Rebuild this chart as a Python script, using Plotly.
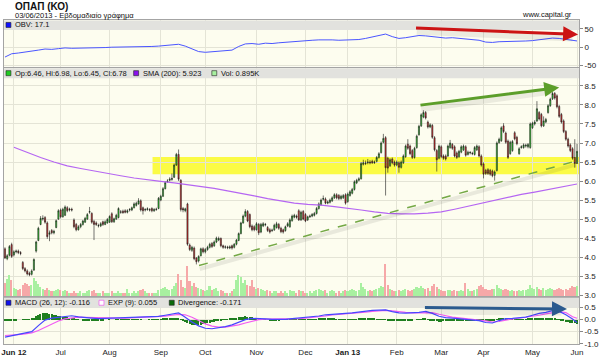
import plotly.graph_objects as go
import pandas as pd

# ---------------- data ----------------
holidays = ["2012-12-25", "2012-12-26", "2013-01-01", "2013-03-18",
            "2013-03-25", "2013-05-01", "2013-05-03", "2013-05-06"]
dates = [d for d in pd.bdate_range("2012-05-28", "2013-06-03")
         if d.strftime("%Y-%m-%d") not in holidays]
N = len(dates)
idx = list(range(N))

opens = [4.22,3.96,4.05,4.33,4.06,4.14,4.16,4.12,3.86,3.70,
         3.64,3.58,3.55,3.66,4.16,4.44,4.86,5.00,5.04,4.90,
         4.60,4.70,4.64,4.78,5.00,5.24,5.06,5.10,5.30,5.24,
         5.26,4.98,4.86,4.72,4.80,4.86,4.92,5.00,5.18,5.15,
         4.94,4.90,4.82,4.82,4.93,4.86,4.90,4.92,5.14,4.93,
         5.00,5.04,5.18,5.21,5.22,5.18,5.24,5.24,5.30,5.36,
         5.40,5.48,5.30,5.24,5.25,5.25,5.28,5.22,5.25,5.28,
         5.50,5.60,5.80,5.98,6.02,6.04,6.10,6.42,6.70,6.02,
         5.28,5.22,5.40,4.32,4.18,4.24,3.98,3.90,4.04,4.22,
         4.14,4.20,4.26,4.36,4.30,4.40,4.45,4.49,4.30,4.26,
         4.27,4.24,4.30,4.26,4.34,4.44,4.62,4.90,5.08,5.20,
         5.12,4.82,4.80,4.72,4.86,4.66,4.82,4.85,4.78,4.72,
         4.70,4.72,4.78,4.86,4.76,4.72,4.70,4.82,4.80,4.96,
         5.05,5.08,5.22,4.98,5.20,5.12,4.98,5.06,5.08,5.10,
         5.15,5.28,5.38,5.52,5.53,5.42,5.44,5.48,5.56,5.64,
         5.62,5.54,5.56,5.64,5.46,5.62,5.68,5.78,5.95,6.02,
         6.06,6.44,6.46,6.48,6.50,6.52,6.48,6.52,6.62,6.75,
         7.02,7.14,6.60,6.40,6.58,6.50,6.42,6.48,6.36,6.48,
         6.64,6.97,6.92,6.80,6.62,6.88,7.22,7.45,7.68,7.80,
         7.55,7.42,7.46,7.14,6.80,6.60,6.90,6.66,6.66,6.66,
         6.88,6.96,6.90,6.74,6.64,6.76,6.82,6.90,6.70,6.74,
         6.73,6.70,6.82,6.90,6.66,6.45,6.28,6.30,6.28,6.26,
         6.15,6.28,7.01,7.06,7.45,7.26,7.05,6.72,6.80,7.27,
         7.15,6.72,6.88,6.88,6.92,6.90,6.88,7.40,7.50,7.58,
         7.80,7.75,7.45,7.55,7.80,7.98,8.16,8.30,8.24,7.96,
         7.75,7.58,7.30,7.10,6.95,6.85,6.62,6.46]

closes = [3.98,4.04,4.28,4.02,4.14,4.16,4.12,4.10,3.70,3.64,
          3.56,3.54,3.64,3.94,4.40,4.76,5.02,5.02,4.92,4.54,
          4.64,4.64,4.68,4.96,5.22,5.06,5.26,5.32,5.22,5.26,
          5.24,4.80,4.72,4.80,4.86,4.95,5.02,5.12,5.20,4.92,
          4.86,4.86,4.83,4.88,4.86,4.93,4.99,5.07,4.93,5.01,
          5.10,5.28,5.19,5.17,5.18,5.22,5.25,5.30,5.40,5.42,
          5.48,5.24,5.22,5.25,5.27,5.24,5.22,5.25,5.26,5.55,
          5.60,5.80,5.96,6.00,6.05,6.07,6.42,6.70,6.05,5.25,
          5.24,5.27,4.34,4.20,4.26,3.96,3.88,4.02,4.22,4.14,
          4.20,4.26,4.34,4.28,4.40,4.50,4.49,4.30,4.26,4.27,
          4.25,4.27,4.24,4.34,4.45,4.62,4.90,5.08,5.20,4.95,
          4.80,4.72,4.72,4.88,4.64,4.86,4.88,4.86,4.70,4.66,
          4.71,4.84,4.88,4.76,4.67,4.66,4.80,4.88,4.98,5.08,
          5.10,5.05,4.98,5.18,5.00,4.95,5.06,5.08,5.12,5.15,
          5.28,5.40,5.50,5.54,5.42,5.45,5.50,5.56,5.64,5.56,
          5.54,5.60,5.62,5.42,5.66,5.72,5.78,5.98,6.02,6.06,
          6.46,6.48,6.47,6.50,6.48,6.48,6.50,6.62,6.72,7.00,
          7.12,6.35,6.34,6.56,6.48,6.42,6.50,6.36,6.50,6.66,
          6.92,6.86,6.72,6.62,6.86,7.18,7.44,7.74,7.80,7.66,
          7.42,7.48,7.15,6.82,6.56,6.92,6.64,6.60,6.58,6.92,
          7.00,6.86,6.66,6.62,6.78,6.90,6.92,6.68,6.76,6.75,
          6.72,6.88,6.92,6.66,6.42,6.18,6.20,6.20,6.18,6.14,
          6.24,7.00,7.10,7.40,7.30,7.02,6.62,7.02,7.04,7.11,
          6.98,6.85,6.90,6.95,6.94,6.96,7.50,7.52,7.55,7.90,
          7.63,7.45,7.58,7.62,7.98,8.15,8.30,8.18,7.95,7.70,
          7.55,7.30,7.10,6.92,6.80,6.60,6.46,6.78]

highs = [4.26,4.08,4.32,4.38,4.18,4.20,4.20,4.16,3.90,3.74,
         3.68,3.62,3.68,3.97,4.43,4.80,5.08,5.10,5.08,4.94,
         4.70,4.74,4.72,4.99,5.26,5.28,5.30,5.36,5.34,5.30,
         5.30,5.02,4.90,4.84,4.90,4.98,5.06,5.16,5.32,5.18,
         4.98,4.94,4.88,4.92,4.96,4.97,5.03,5.10,5.18,5.04,
         5.14,5.31,5.24,5.25,5.26,5.26,5.29,5.33,5.44,5.46,
         5.55,5.52,5.33,5.29,5.31,5.29,5.31,5.29,5.30,5.58,
         5.64,5.84,6.00,6.05,6.10,6.20,6.46,6.74,6.83,6.05,
         5.32,5.30,5.43,4.36,4.30,4.28,4.00,4.05,4.25,4.26,
         4.24,4.30,4.38,4.40,4.44,4.54,4.54,4.52,4.33,4.31,
         4.30,4.31,4.33,4.37,4.48,4.65,4.93,5.12,5.26,5.24,
         5.15,4.86,4.84,4.92,4.90,4.90,4.92,4.90,4.82,4.76,
         4.75,4.88,4.93,4.90,4.80,4.75,4.83,4.92,5.02,5.12,
         5.14,5.12,5.26,5.22,5.24,5.16,5.09,5.12,5.16,5.19,
         5.32,5.44,5.54,5.62,5.57,5.49,5.54,5.60,5.68,5.68,
         5.66,5.64,5.66,5.68,5.70,5.76,5.82,6.02,6.06,6.10,
         6.50,6.56,6.54,6.58,6.55,6.56,6.54,6.66,6.76,7.04,
         7.24,7.18,6.64,6.60,6.62,6.54,6.54,6.52,6.54,6.70,
         6.96,7.10,6.96,6.84,6.90,7.22,7.48,7.78,7.86,7.84,
         7.59,7.52,7.50,7.18,6.84,6.96,6.94,6.70,6.70,6.96,
         7.08,7.00,6.94,6.78,6.82,6.94,6.96,6.94,6.80,6.79,
         6.77,6.92,6.96,6.94,6.70,6.49,6.32,6.34,6.32,6.30,
         6.28,7.04,7.14,7.44,7.52,7.30,7.09,7.06,7.08,7.31,
         7.19,6.89,6.94,6.99,6.98,7.00,7.54,7.56,7.60,8.10,
         7.84,7.79,7.70,7.66,8.02,8.19,8.34,8.34,8.28,8.00,
         7.79,7.62,7.34,7.14,6.99,6.89,7.10,6.98]

lows = [3.95,3.92,4.02,3.98,4.02,4.10,4.08,4.05,3.66,3.60,
        3.52,3.50,3.52,3.64,4.12,4.42,4.84,4.96,4.88,4.48,
        4.42,4.60,4.60,4.76,4.98,5.02,5.04,5.08,5.18,5.20,
        5.20,4.76,4.68,4.70,4.76,4.83,4.90,4.98,5.14,4.88,
        4.45,4.82,4.78,4.79,4.82,4.84,4.88,4.90,4.90,4.90,
        4.98,5.02,5.14,5.14,5.15,5.15,5.20,5.21,5.28,5.33,
        5.38,5.20,5.12,5.20,5.22,5.20,5.18,5.19,5.22,5.26,
        5.47,5.58,5.78,5.95,5.99,6.01,6.08,6.40,6.00,5.20,
        5.18,5.18,4.30,4.16,4.14,3.92,3.81,3.86,4.02,4.10,
        4.10,4.17,4.23,4.24,4.27,4.37,4.42,4.26,4.22,4.22,
        4.21,4.21,4.20,4.23,4.31,4.42,4.60,4.88,5.05,4.92,
        4.76,4.68,4.68,4.70,4.58,4.63,4.79,4.81,4.66,4.62,
        4.66,4.69,4.75,4.72,4.63,4.62,4.67,4.79,4.77,4.93,
        5.02,5.01,4.95,4.95,4.97,4.92,4.95,5.03,5.05,5.07,
        5.12,5.25,5.35,5.49,5.39,5.39,5.41,5.45,5.53,5.52,
        5.50,5.51,5.53,5.38,5.43,5.59,5.65,5.75,5.92,5.99,
        6.04,6.41,6.42,6.44,6.44,6.45,6.45,6.49,6.59,6.72,
        6.99,5.62,6.22,6.37,6.44,6.38,6.39,6.22,6.33,6.45,
        6.61,6.82,6.68,6.58,6.59,6.85,7.19,7.42,7.65,7.62,
        7.38,7.39,7.11,6.78,6.25,6.57,6.60,6.56,6.54,6.63,
        6.85,6.82,6.62,6.58,6.61,6.73,6.79,6.64,6.67,6.70,
        6.68,6.67,6.79,6.62,6.38,6.07,6.16,6.16,6.14,6.10,
        6.01,6.25,6.98,7.03,7.26,6.98,6.58,6.69,6.77,7.07,
        6.94,6.69,6.85,6.85,6.88,6.86,6.85,7.37,7.46,7.55,
        7.59,7.41,7.42,7.52,7.77,7.95,8.13,8.14,7.91,7.66,
        7.51,7.26,7.06,6.88,6.76,6.56,6.35,6.45]

volume_k = [1.2,1.5,1.9,1.4,0.7,0.6,0.5,0.6,1.0,1.2,
            1.1,0.9,1.0,1.6,1.3,1.1,0.8,0.6,0.5,0.7,
            0.5,0.4,0.4,0.5,0.6,0.5,0.4,0.5,0.4,0.3,
            0.3,0.4,0.3,0.3,0.4,0.3,0.3,0.4,0.5,0.4,
            0.5,0.3,0.3,0.3,0.4,0.3,0.3,0.3,0.4,0.3,
            0.3,0.4,0.3,0.3,0.3,0.6,0.3,0.3,0.4,0.3,
            0.4,0.5,0.6,0.4,0.3,0.3,0.3,0.3,0.3,0.5,
            0.6,0.7,0.8,0.6,0.5,0.6,0.9,1.2,2.0,1.4,
            0.8,0.7,2.7,1.3,0.9,1.2,0.8,0.7,0.6,0.5,
            0.4,0.5,0.9,0.5,0.6,0.7,0.4,0.5,0.4,0.3,
            0.3,0.3,0.4,0.6,1.4,1.9,1.7,1.2,1.4,1.0,
            0.9,1.4,0.8,0.6,0.7,0.6,0.5,0.4,0.5,0.4,
            0.3,0.4,0.4,0.3,0.4,0.3,0.4,0.3,0.5,0.4,
            0.4,0.3,0.5,0.4,0.4,0.3,0.3,0.4,0.3,0.4,
            0.5,0.6,0.5,0.4,0.5,0.3,0.4,0.5,0.4,0.3,
            0.4,0.3,0.4,0.5,0.4,0.5,0.6,0.5,0.4,0.5,
            1.2,0.8,0.6,0.4,0.5,0.4,0.5,0.6,0.7,0.9,
            0.8,2.9,1.0,0.6,0.5,0.4,0.4,0.5,0.4,0.5,
            0.6,0.5,0.4,0.5,0.6,0.8,0.7,0.9,0.7,0.6,
            0.7,0.4,0.9,1.1,0.8,0.6,0.5,0.4,0.4,0.5,
            0.5,0.4,0.5,0.4,0.4,0.5,0.4,1.2,0.6,0.4,
            0.4,0.5,0.6,0.9,1.0,0.8,0.6,0.5,0.5,0.6,
            0.6,1.0,0.7,0.6,0.5,0.6,0.5,0.4,0.5,0.4,
            0.4,0.5,0.4,0.5,0.5,0.6,1.0,0.7,0.6,0.8,
            0.6,0.5,0.7,0.5,0.6,0.7,0.6,0.5,0.6,0.7,
            0.6,0.5,0.6,0.5,0.7,0.9,0.8,0.895]

divergence = [-0.07,-0.06,-0.04, -0.03,-0.02,-0.01, 0.00,0.00,0.01, 0.01,0.01,0.02,
              0.04,0.08,0.14, 0.20,0.25,0.28, 0.30,0.28,0.26, 0.24,0.21,0.18,
              0.16,0.14,0.12, 0.11,0.10,0.09, 0.08,0.05,0.03, 0.01,0.00,-0.01,
              -0.02,-0.01,-0.01, -0.02,-0.03,-0.02, -0.02,-0.01,-0.01, 0.00,0.00,0.01,
              0.00,0.00,0.01, 0.01,0.01,0.01, 0.01,0.01,0.01, 0.01,0.02,0.02,
              0.02,0.01,0.00, 0.00,0.00,0.01, 0.01,0.01,0.02, 0.02,0.03,0.04,
              0.04,0.05,0.05, 0.06,0.07,0.07, 0.06,0.02,-0.04, -0.10,-0.14,-0.17,
              -0.20,-0.22,-0.23, -0.22,-0.21,-0.19, -0.18,-0.15,-0.13, -0.11,-0.08,-0.05,
              -0.03,-0.01,0.01, 0.02,0.03,0.05, 0.06,0.07,0.09, 0.10,0.12,0.13,
              0.14,0.13,0.12, 0.11,0.09,0.07, 0.05,0.03,0.02, 0.01,0.00,-0.01,
              -0.01,-0.01,-0.01, -0.01,0.00,0.00, 0.00,0.01,0.01, 0.02,0.02,0.02,
              0.02,0.02,0.02, 0.02,0.02,0.02, 0.02,0.03,0.03, 0.04,0.04,0.05,
              0.05,0.05,0.04, 0.04,0.04,0.03, 0.03,0.03,0.02, 0.02,0.02,0.02,
              0.02,0.03,0.03, 0.04,0.04,0.05, 0.05,0.05,0.04, 0.04,0.04,0.03,
              0.03,0.03,0.02, 0.02,-0.01,-0.02, -0.03,-0.04,-0.04, -0.04,-0.04,-0.03,
              -0.03,-0.02,-0.02, -0.01,0.00,0.01, 0.02,0.03,0.04, 0.04,0.02,-0.01,
              -0.03,-0.05,-0.07, -0.08,-0.08,-0.07, -0.07,-0.06,-0.05, -0.04,-0.04,-0.04,
              -0.04,-0.03,-0.03, -0.02,-0.02,-0.02, -0.02,-0.03,-0.03, -0.04,-0.05,-0.06,
              -0.07,-0.07,-0.06, -0.04,-0.01,0.02, 0.04,0.05,0.06, 0.06,0.05,0.04,
              0.03,0.03,0.02, 0.02,0.02,0.03, 0.03,0.04,0.05, 0.06,0.07,0.08,
              0.08,0.07,0.06, 0.06,0.07,0.07, 0.07,0.05,0.03, 0.01,-0.02,-0.05,
              -0.09,-0.10,-0.12, -0.13,-0.15,-0.171]

# indicator lines sampled every third session (plus the last session)
ind_idx = list(range(0, N, 3)) + [N - 1]
obv = [-27,-18,-16,-14,-12,-8,-5,-6,-4,-2,
       -3,-3,-2,-1,-1,-1,0,0,1,1,
       2,2,2,3,5,7,8,3,-4,-12,
       -14,-12,-11,-10,-8,2,9,10,8,11,
       10,12,13,15,17,17,19,20,21,20,
       19,19,20,21,24,28,31,36,29,24,
       26,29,32,31,29,27,25,26,24,23,
       22,19,14,13,15,16,16,17,17,18,
       20,22,25,24,22,18, 17.1]
macd = [-0.73,-0.68,-0.62,-0.58,-0.50,-0.25,-0.02,0.06,0.10,0.14,
        0.16,0.11,0.07,0.06,0.04,0.05,0.05,0.07,0.07,0.08,
        0.10,0.09,0.10,0.13,0.18,0.24,0.28,0.10,-0.10,-0.26,
        -0.36,-0.38,-0.34,-0.29,-0.22,-0.12,0.00,0.05,0.05,0.03,
        0.01,0.00,0.01,0.04,0.06,0.08,0.10,0.15,0.20,0.23,
        0.25,0.26,0.28,0.32,0.36,0.38,0.39,0.40,0.33,0.28,
        0.27,0.27,0.30,0.34,0.26,0.14,0.08,0.06,0.03,0.02,
        0.00,-0.04,-0.12,-0.14,-0.04,0.04,0.05,0.06,0.10,0.18,
        0.26,0.30,0.37,0.34,0.20,0.02, -0.116]
exp9 = [-0.66,-0.65,-0.62,-0.59,-0.55,-0.45,-0.32,-0.18,-0.06,0.03,
        0.08,0.10,0.09,0.08,0.06,0.05,0.05,0.06,0.06,0.07,
        0.08,0.09,0.09,0.11,0.14,0.18,0.22,0.20,0.10,-0.04,
        -0.18,-0.27,-0.31,-0.31,-0.28,-0.22,-0.14,-0.06,0.00,0.02,
        0.02,0.01,0.01,0.02,0.04,0.06,0.08,0.11,0.15,0.19,
        0.22,0.24,0.26,0.28,0.31,0.34,0.36,0.38,0.36,0.32,
        0.30,0.28,0.28,0.30,0.29,0.22,0.15,0.10,0.07,0.04,
        0.02,0.00,-0.05,-0.10,-0.08,-0.02,0.02,0.04,0.07,0.12,
        0.18,0.24,0.30,0.33,0.29,0.12, 0.055]

sma_idx = list(range(4, N, 6)) + [N - 1]
sma200 = [6.89,6.75,6.62,6.50,6.40,6.33,6.26,6.20,6.14,6.08,
          6.03,5.99,5.95,5.91,5.86,5.81,5.74,5.68,5.61,5.54,
          5.47,5.42,5.39,5.37,5.33,5.29,5.24,5.19,5.15,5.14,
          5.14,5.16,5.19,5.26,5.34,5.42,5.50,5.58,5.65,5.71,
          5.78,5.85,5.92, 5.923]

# month ticks
tick_idx, tick_text = [], []
for i in range(1, N):
    if dates[i].month != dates[i - 1].month:
        if dates[i].month == 1 or not tick_idx:
            tick_text.append("<b>" + dates[i].strftime("%b %y") + "</b>")
        else:
            tick_text.append(dates[i].strftime("%b"))
        tick_idx.append(i)

# ---------------- styling ----------------
FONT = "Liberation Sans, Arial, sans-serif"
PLOT_BG = "#fdfdef"
GRID = "#e4e4d6"
FRAME = "#a4a4a4"
STRIP = "#e2e2de"
X_RANGE = [-0.44, 257.9]

# pixel helpers for decorations (plot area spans x 1..582, y 20..346)
def px(x):
    return (x - 1) / 581.0

def py(y):
    return 1 - (y - 20) / 326.0

vol_colors = ["#a8f0a0" if c >= o else "#f6a8a8" for o, c in zip(opens, closes)]

fig = go.Figure()
fig.add_trace(go.Scatter(x=ind_idx, y=obv, mode="lines",
                         line=dict(color="#4a55ff", width=1), xaxis="x", yaxis="y"))
fig.add_trace(go.Scatter(x=sma_idx, y=sma200, mode="lines",
                         line=dict(color="#b566f2", width=1.2), xaxis="x2", yaxis="y2"))
fig.add_trace(go.Candlestick(x=idx, open=opens, high=highs, low=lows, close=closes,
                             xaxis="x2", yaxis="y2", whiskerwidth=0,
                             increasing=dict(fillcolor="#2ee02e", line=dict(color="#1a1a1a", width=0.6)),
                             decreasing=dict(fillcolor="#ee2b2b", line=dict(color="#1a1a1a", width=0.6))))
fig.add_trace(go.Bar(x=idx, y=volume_k, marker=dict(color=vol_colors, line_width=0),
                     width=0.7, xaxis="x2", yaxis="y3"))
fig.add_trace(go.Bar(x=idx, y=divergence, marker=dict(color="#1f7f1f", line_width=0),
                     width=0.6, xaxis="x3", yaxis="y4"))
fig.add_trace(go.Scatter(x=ind_idx, y=exp9, mode="lines",
                         line=dict(color="#f25cf2", width=1.2), xaxis="x3", yaxis="y4"))
fig.add_trace(go.Scatter(x=ind_idx, y=macd, mode="lines",
                         line=dict(color="#4646ff", width=1.2), xaxis="x3", yaxis="y4"))

xcommon = dict(range=X_RANGE, tickvals=tick_idx, ticktext=tick_text, showgrid=True,
               gridcolor=GRID, gridwidth=1, zeroline=False, showline=True, mirror=True,
               linecolor=FRAME, linewidth=1, ticks="", fixedrange=True,
               tickfont=dict(family=FONT, size=8, color="#222"))
ycommon = dict(side="right", showgrid=True, gridcolor=GRID, gridwidth=1, zeroline=False,
               showline=True, mirror=True, linecolor=FRAME, linewidth=1, ticks="outside",
               ticklen=3, tickcolor="#888", tickfont=dict(family=FONT, size=8, color="#222"))

fig.update_layout(
    width=600, height=358, margin=dict(l=1, r=18, t=20, b=12),
    paper_bgcolor="white", plot_bgcolor=PLOT_BG, showlegend=False,
    bargap=0, hovermode=False,
    xaxis=dict(anchor="y", showticklabels=False, **xcommon),
    xaxis2=dict(anchor="y2", showticklabels=False, rangeslider=dict(visible=False), **xcommon),
    xaxis3=dict(anchor="y4", showticklabels=True, ticklabeloverflow="allow", **xcommon),
    yaxis=dict(domain=[0.8558, 1.0], range=[-53.5, 74.5], tickvals=[-50, 0, 50],
               ticktext=["-50", "0", "50"], anchor="x", **ycommon),
    yaxis2=dict(domain=[0.1479, 0.8512], range=[2.978, 8.965],
                tickvals=[3.0 + 0.5 * k for k in range(12)],
                ticktext=["%.1f" % (3.0 + 0.5 * k) for k in range(12)], anchor="x2", **ycommon),
    yaxis3=dict(overlaying="y2", anchor="x2", range=[0, 20.5], visible=False),
    yaxis4=dict(domain=[0.0, 0.1426], range=[-1.012, 0.904], tickvals=[-1.0, -0.5, 0.0, 0.5],
                ticktext=["-1.0", "-0.5", "0.0", "0.5"], anchor="x3", **ycommon),
)

shapes = []
# legend strips (pixel rows of each panel header)
for y0, y1 in [(20.5, 30), (68.5, 78.5), (299.5, 309.5)]:
    shapes.append(dict(type="rect", xref="paper", yref="paper", x0=0, x1=1,
                       y0=py(y1), y1=py(y0), fillcolor=STRIP, line=dict(width=0),
                       layer="above"))
# yellow support band
shapes.append(dict(type="rect", xref="x2", yref="y2", x0=66.3, x1=257.9, y0=6.18, y1=6.63,
                   fillcolor="#fbfb45", line=dict(width=0), layer="below"))
# rising trend line with soft shadow
shapes.append(dict(type="line", xref="x2", yref="y2", x0=87.5, y0=3.69, x1=256.5, y1=6.43,
                   line=dict(color="rgba(0,0,0,0.08)", width=4)))
shapes.append(dict(type="line", xref="x2", yref="y2", x0=87.2, y0=3.78, x1=256.1, y1=6.52,
                   line=dict(color="#74a846", width=1.5, dash="dash")))
# arrow shadows
shapes.append(dict(type="line", xref="x2", yref="y2", x0=187, y0=7.89, x1=246, y1=8.35,
                   line=dict(color="rgba(0,0,0,0.07)", width=6)))
shapes.append(dict(type="line", xref="x", yref="y", x0=185, y0=42, x1=255, y1=24,
                   line=dict(color="rgba(0,0,0,0.07)", width=6)))
shapes.append(dict(type="line", xref="x3", yref="y4", x0=189, y0=0.34, x1=250, y1=0.29,
                   line=dict(color="rgba(0,0,0,0.07)", width=6)))
# legend colour boxes
def box(x0, y0, color, edge="#222"):
    shapes.append(dict(type="rect", xref="paper", yref="paper",
                       x0=px(x0), x1=px(x0 + 5), y0=py(y0 + 5), y1=py(y0),
                       fillcolor=color, line=dict(color=edge, width=0.6)))
box(3, 22.5, "#1010ff")
box(3, 71, "#22cc22")
box(132, 71, "#8a10ee")
box(211, 71, "#a8f0a0")
box(3, 302, "#1010ee")
box(97, 302, "#ffffff", "#ee44ee")
box(168, 302, "#0a6a0a")
fig.update_layout(shapes=shapes)

ann = []
def label(x, y, text, size=7.5, bold=False, anchor="left"):
    t = "<b>%s</b>" % text if bold else text
    ann.append(dict(xref="paper", yref="paper", x=px(x), y=py(y), text=t, showarrow=False,
                    xanchor=anchor, yanchor="middle",
                    font=dict(family=FONT, size=size, color="#111")))

label(10, 6, "ΟΠΑΠ (ΚΟ)", size=10, bold=True)
label(10, 15, "03/06/2013 - Εβδομαδιαίο γράφημα", size=7.5)
label(577, 14, "www.capital.gr", size=7.5, anchor="right")
label(10, 25, "OBV: 17.1")
label(10, 73.5, "Op:6.46, Hi:6.98, Lo:6.45, Cl:6.78")
label(139, 73.5, "SMA (200): 5.923")
label(218, 73.5, "Vol: 0.895K")
label(10, 304.5, "MACD (26, 12): -0.116")
label(104, 304.5, "EXP (9): 0.055")
label(175, 304.5, "Divergence: -0.171")

# drawn arrows
ann.append(dict(x=249, y=8.46, ax=186, ay=7.99, xref="x2", yref="y2", axref="x2", ayref="y2",
                text="", showarrow=True, arrowhead=2, arrowsize=1, arrowwidth=3,
                arrowcolor="#5c9e2a"))
ann.append(dict(x=257.5, y=35, ax=184, ay=52.5, xref="x", yref="y", axref="x", ayref="y",
                text="", showarrow=True, arrowhead=2, arrowsize=1, arrowwidth=3,
                arrowcolor="#cc1414"))
ann.append(dict(x=252.5, y=0.44, ax=188, ay=0.50, xref="x3", yref="y4", axref="x3", ayref="y4",
                text="", showarrow=True, arrowhead=2, arrowsize=1, arrowwidth=3,
                arrowcolor="#2b5a8e"))
fig.update_layout(annotations=ann)

fig.write_html("out.html")
